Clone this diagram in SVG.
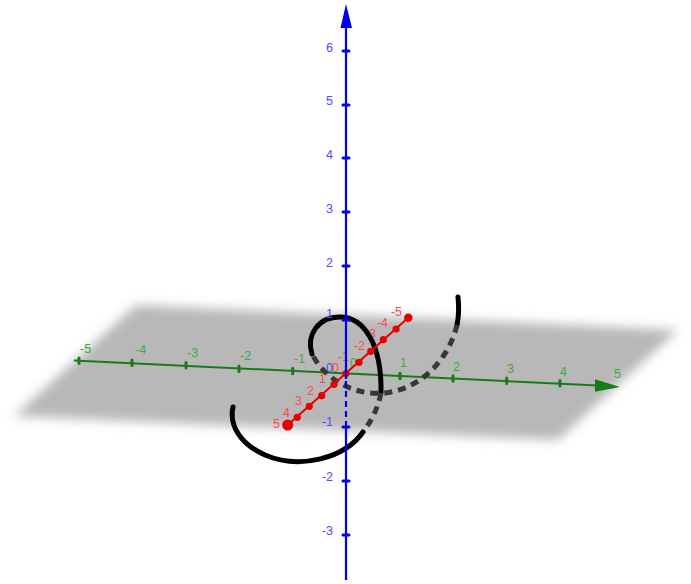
<svg xmlns="http://www.w3.org/2000/svg" width="691" height="584" viewBox="0 0 691 584">
<defs>
<filter id="soft" x="-10%" y="-30%" width="120%" height="160%"><feGaussianBlur stdDeviation="5.5"/></filter>
<style>
text{font-family:"Liberation Sans",Arial,sans-serif;font-size:12.5px}
.gl{fill:#43a843}
.rl{fill:#ff4a4a;text-anchor:end}
.bl{fill:#4d4dff;text-anchor:end}
.gt{stroke:#1a7a1a;stroke-width:3;stroke-linecap:round}
.bt{stroke:#0000ee;stroke-width:3;stroke-linecap:round}
.rd{fill:#e80000}
.cs{fill:none;stroke:#000;stroke-width:5;stroke-linecap:round}
.cd{fill:none;stroke:#383838;stroke-width:5;stroke-dasharray:8 6}
</style>
</defs>
<rect width="691" height="584" fill="#fff"/>
<g id="plane">
<polygon points="136,305 678,330 558,440 14,416" fill="#b8b8b8" filter="url(#soft)"/>
</g>
<g id="y-axis-green">
<line x1="74" y1="360.5" x2="598" y2="385.5" stroke="#1a7a1a" stroke-width="2"/>
<polygon points="620,387 595,379.3 595,391.7" fill="#1a7a1a"/>
<line class="gt" x1="79" y1="358" x2="79" y2="363.5"/>
<line class="gt" x1="132" y1="360" x2="132" y2="365.5"/>
<line class="gt" x1="186" y1="362.5" x2="186" y2="368"/>
<line class="gt" x1="239" y1="366" x2="239" y2="371.5"/>
<line class="gt" x1="292.7" y1="368.3" x2="292.7" y2="373.8"/>
<line class="gt" x1="400" y1="373.3" x2="400" y2="378.8"/>
<line class="gt" x1="453" y1="375.8" x2="453" y2="381.3"/>
<line class="gt" x1="506.7" y1="378" x2="506.7" y2="383.5"/>
<line class="gt" x1="560" y1="380.6" x2="560" y2="386.1"/>
<text class="gl" x="80" y="353">-5</text>
<text class="gl" x="135" y="354">-4</text>
<text class="gl" x="187" y="357">-3</text>
<text class="gl" x="240" y="360">-2</text>
<text class="gl" x="294" y="363">-1</text>
<text class="gl" x="350" y="367">0</text>
<text class="gl" x="400" y="367">1</text>
<text class="gl" x="453" y="371">2</text>
<text class="gl" x="507" y="373">3</text>
<text class="gl" x="560" y="376">4</text>
<text class="gl" x="614" y="378">5</text>
</g>
<g id="x-axis-labels">
<text class="rl" x="280" y="428">5</text>
<text class="rl" x="290" y="417">4</text>
<text class="rl" x="302" y="405">3</text>
<text class="rl" x="314" y="395">2</text>
<text class="rl" x="326" y="383">1</text>
<text class="rl" x="339" y="372">0</text>
<text class="rl" x="349" y="361">-1</text>
<text class="rl" x="365" y="350">-2</text>
<text class="rl" x="376" y="338">-3</text>
<text class="rl" x="388" y="327">-4</text>
<text class="rl" x="402" y="316">-5</text>
</g>
<g id="curve">
<path class="cs" d="M458 297 C459 307 459 316 457 325"/>
<path class="cd" d="M457 325 C450 355 425 388 385 393 C355 396 325 380 312 354"/>
<path class="cs" d="M312 354 C306 335 318 317 340 317 C363 317 382 343 381 393"/>
<path class="cd" d="M381 393 C378 408 372 420 363 432"/>
<path class="cs" d="M363 432 C345 458 300 470 265 455 C240 444 229 425 233 407"/>
</g>
<g id="x-axis-red">
<line x1="287.7" y1="425" x2="408.3" y2="317.7" stroke="#e80000" stroke-width="2"/>
<circle class="rd" cx="287.7" cy="425" r="5.5"/>
<circle class="rd" cx="297.3" cy="417.3" r="3.6"/>
<circle class="rd" cx="309.3" cy="406.3" r="3.6"/>
<circle class="rd" cx="321.7" cy="395.7" r="3.6"/>
<circle class="rd" cx="334" cy="384.3" r="3.6"/>
<circle class="rd" cx="346" cy="373.5" r="3.6"/>
<circle class="rd" cx="359" cy="362.3" r="3.6"/>
<circle class="rd" cx="370.7" cy="351.3" r="3.6"/>
<circle class="rd" cx="383.3" cy="339.7" r="3.6"/>
<circle class="rd" cx="396" cy="329" r="3.6"/>
<circle class="rd" cx="408.3" cy="317.7" r="4.3"/>
</g>
<g id="z-axis-blue">
<line x1="346" y1="26" x2="346" y2="379" stroke="#0000ee" stroke-width="2.2"/>
<line x1="346" y1="381" x2="346" y2="424" stroke="#0000ee" stroke-width="2.2" stroke-dasharray="6 4"/>
<line x1="346" y1="424" x2="346" y2="580" stroke="#0000ee" stroke-width="2.2"/>
<polygon points="346,4 340.5,28 352,28" fill="#0000ee"/>
<line class="bt" x1="343" y1="51" x2="349" y2="51"/>
<line class="bt" x1="343" y1="105" x2="349" y2="105"/>
<line class="bt" x1="343" y1="158" x2="349" y2="158"/>
<line class="bt" x1="343" y1="212" x2="349" y2="212"/>
<line class="bt" x1="343" y1="266" x2="349" y2="266"/>
<line class="bt" x1="343" y1="320" x2="349" y2="320"/>
<line class="bt" x1="343" y1="427" x2="349" y2="427"/>
<line class="bt" x1="343" y1="481" x2="349" y2="481"/>
<line class="bt" x1="343" y1="535" x2="349" y2="535"/>
<text class="bl" x="333" y="52">6</text>
<text class="bl" x="333" y="105">5</text>
<text class="bl" x="333" y="159">4</text>
<text class="bl" x="333" y="213">3</text>
<text class="bl" x="333" y="267">2</text>
<text class="bl" x="333" y="318">1</text>
<text class="bl" x="333" y="372">0</text>
<text class="bl" x="333" y="426">-1</text>
<text class="bl" x="333" y="481">-2</text>
<text class="bl" x="333" y="535">-3</text>
</g>
</svg>
